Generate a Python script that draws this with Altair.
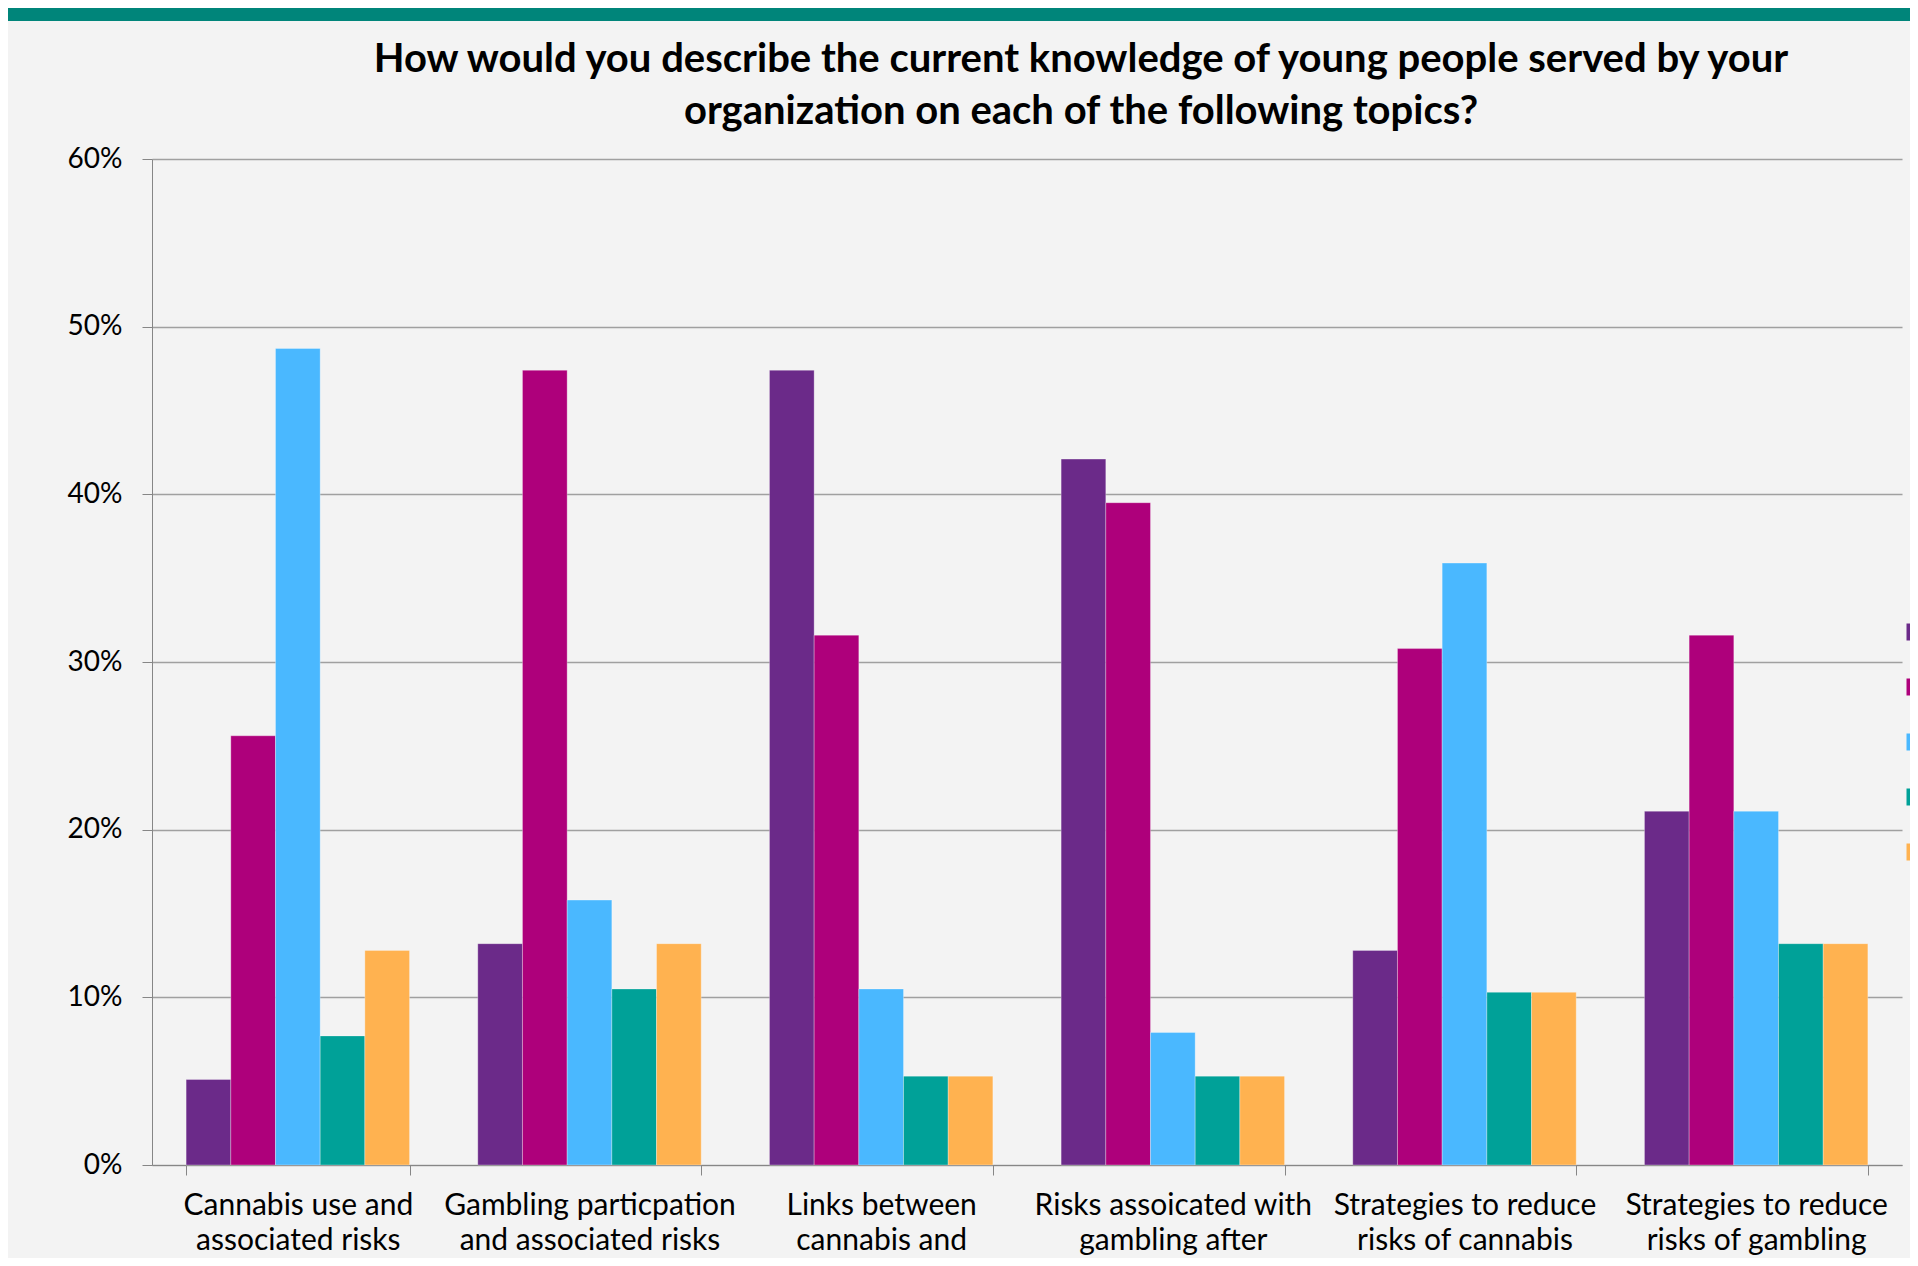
import altair as alt
import pandas as pd

topics = [
    "Cannabis use and|associated risks",
    "Gambling particpation|and associated risks",
    "Links between|cannabis and|gambling",
    "Risks assoicated with|gambling after|cannabis use",
    "Strategies to reduce|risks of cannabis|use",
    "Strategies to reduce|risks of gambling",
]
levels = ["Poor", "Fair", "Good", "Very good", "Don't know"]
level_colors = ["#6b2a89", "#ae007b", "#4ab8ff", "#00a198", "#ffb250"]

poor = [5.1, 13.2, 47.4, 42.1, 12.8, 21.1]
fair = [25.6, 47.4, 31.6, 39.5, 30.8, 31.6]
good = [48.7, 15.8, 10.5, 7.9, 35.9, 21.1]
very_good = [7.7, 10.5, 5.3, 5.3, 10.3, 13.2]
dont_know = [12.8, 13.2, 5.3, 5.3, 10.3, 13.2]

series = [poor, fair, good, very_good, dont_know]
rows = []
for lvl, vals in zip(levels, series):
    for t, v in zip(topics, vals):
        rows.append({"topic": t, "level": lvl, "value": v / 100.0})
df = pd.DataFrame(rows)

W, H = 1750, 1006
PL, PT, PR, PB = 144, 151, 8, 93

bars = alt.Chart(df).mark_bar(stroke="#ffffff", strokeWidth=0.6, strokeOpacity=0.5).encode(
    x=alt.X(
        "topic:N",
        sort=topics,
        scale=alt.Scale(paddingInner=0.234, paddingOuter=0.117),
        axis=alt.Axis(
            title=None,
            labelAngle=0,
            labelExpr="split(datum.label, '|')",
            labelFont="Lato",
            labelFontSize=30,
            labelLineHeight=35,
            labelColor="#000000",
            labelPadding=15,
            labelBaseline="top",
            labelLimit=0,
            tickBand="extent",
            tickSize=10,
            tickColor="#868686",
            domainColor="#868686",
            grid=False,
        ),
    ),
    xOffset=alt.XOffset("level:N", sort=levels, scale=alt.Scale(paddingInner=0, paddingOuter=0)),
    y=alt.Y(
        "value:Q",
        scale=alt.Scale(domain=[0, 0.6], nice=False),
        axis=alt.Axis(
            title=None,
            format=".0%",
            values=[0, 0.1, 0.2, 0.3, 0.4, 0.5, 0.6],
            labelFont="Lato",
            labelFontSize=28,
            labelColor="#000000",
            labelPadding=20,
            tickSize=10,
            tickColor="#868686",
            domainColor="#868686",
            gridColor="#a0a0a0",
            gridWidth=1.3,
        ),
    ),
    color=alt.Color(
        "level:N",
        sort=levels,
        scale=alt.Scale(domain=levels, range=level_colors),
        legend=alt.Legend(
            title=None,
            orient="none",
            legendX=1753,
            legendY=463,
            symbolType="square",
            symbolSize=289,
            symbolStrokeWidth=0,
            labelFont="Lato",
            labelFontSize=20,
            rowPadding=35,
            padding=0,
        ),
    ),
)

banner = alt.Chart(pd.DataFrame({"k": [0]})).mark_rect(color="#00857a").encode(
    x=alt.value(-PL),
    x2=alt.value(W + PR),
    y=alt.value(-PT),
    y2=alt.value(-PT + 13),
)

chart = alt.layer(banner, bars).properties(
    width=W,
    height=H,
    autosize=alt.AutoSizeParams(type="none"),
    padding={"left": PL, "top": PT, "right": PR, "bottom": PB},
    background="#f3f3f3",
    title=alt.TitleParams(
        text=[
            "How would you describe the current knowledge of young people served by your",
            "organization on each of the following topics?",
        ],
        font="Lato",
        fontSize=40,
        fontWeight="bold",
        color="#000000",
        lineHeight=52,
        anchor="middle",
        dx=54,
        offset=-124,
    ),
).configure_view(stroke=None)

chart.save("out.html", embed_options={"renderer": "svg", "actions": False})
